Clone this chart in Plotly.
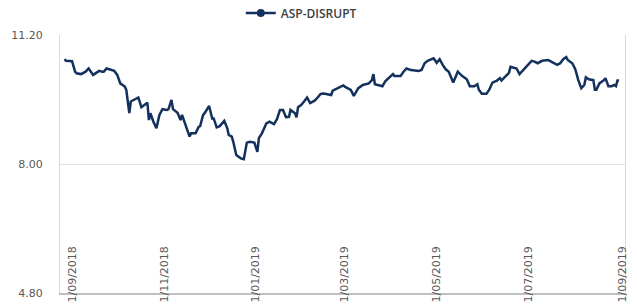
import plotly.graph_objects as go

dates = [
    "2018-08-27", "2018-08-28", "2018-09-01", "2018-09-03", "2018-09-04", "2018-09-07",
    "2018-09-10", "2018-09-12", "2018-09-15", "2018-09-16", "2018-09-19", "2018-09-21",
    "2018-09-22", "2018-09-24", "2018-09-27", "2018-09-29", "2018-10-01", "2018-10-03",
    "2018-10-06", "2018-10-07", "2018-10-08", "2018-10-09", "2018-10-10", "2018-10-14",
    "2018-10-15", "2018-10-17", "2018-10-19", "2018-10-21", "2018-10-22", "2018-10-23",
    "2018-10-25", "2018-10-27", "2018-10-29", "2018-10-31", "2018-11-03", "2018-11-04",
    "2018-11-06", "2018-11-07", "2018-11-10", "2018-11-12", "2018-11-13", "2018-11-15",
    "2018-11-18", "2018-11-19", "2018-11-22", "2018-11-24", "2018-11-25", "2018-11-27",
    "2018-11-28", "2018-12-01", "2018-12-03", "2018-12-04", "2018-12-06", "2018-12-08",
    "2018-12-11", "2018-12-13", "2018-12-14", "2018-12-16", "2018-12-17", "2018-12-19",
    "2018-12-22", "2018-12-24", "2018-12-26", "2018-12-28", "2018-12-31", "2019-01-02",
    "2019-01-03", "2019-01-05", "2019-01-08", "2019-01-10", "2019-01-13", "2019-01-15",
    "2019-01-17", "2019-01-19", "2019-01-21", "2019-01-23", "2019-01-24", "2019-01-27",
    "2019-01-28", "2019-01-29", "2019-01-31", "2019-02-02", "2019-02-04", "2019-02-06",
    "2019-02-09", "2019-02-11", "2019-02-13", "2019-02-15", "2019-02-20", "2019-02-21",
    "2019-02-24", "2019-02-26", "2019-02-28", "2019-03-01", "2019-03-05", "2019-03-07",
    "2019-03-10", "2019-03-13", "2019-03-17", "2019-03-19", "2019-03-20", "2019-03-21",
    "2019-03-24", "2019-03-26", "2019-03-28", "2019-03-31", "2019-04-02", "2019-04-03",
    "2019-04-07", "2019-04-09", "2019-04-11", "2019-04-14", "2019-04-19", "2019-04-21",
    "2019-04-23", "2019-04-25", "2019-04-28", "2019-04-29", "2019-05-01", "2019-05-03",
    "2019-05-05", "2019-05-07", "2019-05-09", "2019-05-12", "2019-05-15", "2019-05-18",
    "2019-05-21", "2019-05-23", "2019-05-26", "2019-05-28", "2019-05-29", "2019-05-31",
    "2019-06-03", "2019-06-05", "2019-06-07", "2019-06-10", "2019-06-12", "2019-06-13",
    "2019-06-15", "2019-06-18", "2019-06-19", "2019-06-23", "2019-06-25", "2019-06-28",
    "2019-07-01", "2019-07-03", "2019-07-05", "2019-07-07", "2019-07-10", "2019-07-14",
    "2019-07-16", "2019-07-20", "2019-07-22", "2019-07-24", "2019-07-26", "2019-07-27",
    "2019-07-30", "2019-08-01", "2019-08-03", "2019-08-05", "2019-08-07", "2019-08-08",
    "2019-08-10", "2019-08-13", "2019-08-14", "2019-08-15", "2019-08-17", "2019-08-20",
    "2019-08-21", "2019-08-23", "2019-08-25", "2019-08-27", "2019-08-28", "2019-08-29",
    "2019-08-30",
]

values = [
    10.60, 10.56, 10.55, 10.29, 10.25, 10.23,
    10.29, 10.37, 10.21, 10.23, 10.31, 10.29,
    10.29, 10.37, 10.33, 10.31, 10.21, 10.00,
    9.92, 9.84, 9.55, 9.26, 9.55, 9.63,
    9.65, 9.41, 9.46, 9.52, 9.09, 9.26,
    9.05, 8.89, 9.22, 9.36, 9.34, 9.36,
    9.59, 9.36, 9.27, 9.09, 9.22, 9.01,
    8.68, 8.76, 8.76, 8.92, 8.94, 9.22,
    9.26, 9.44, 9.13, 9.13, 8.91, 8.94,
    9.07, 8.89, 8.72, 8.68, 8.55, 8.22,
    8.14, 8.12, 8.53, 8.55, 8.53, 8.30,
    8.64, 8.76, 9.01, 9.05, 8.99, 9.11,
    9.34, 9.34, 9.16, 9.17, 9.34, 9.26,
    9.16, 9.41, 9.46, 9.55, 9.65, 9.51,
    9.57, 9.65, 9.74, 9.75, 9.71, 9.82,
    9.88, 9.92, 9.95, 9.92, 9.84, 9.69,
    9.88, 9.96, 10.00, 10.08, 10.23, 9.98,
    9.96, 9.93, 10.06, 10.15, 10.23, 10.18,
    10.18, 10.29, 10.37, 10.33, 10.31, 10.33,
    10.50, 10.56, 10.60, 10.62, 10.51, 10.60,
    10.46, 10.35, 10.29, 10.02, 10.29, 10.18,
    10.10, 9.93, 9.93, 9.98, 9.84, 9.74,
    9.74, 9.85, 10.02, 10.07, 10.13, 10.07,
    10.15, 10.26, 10.41, 10.37, 10.23, 10.35,
    10.48, 10.56, 10.54, 10.50, 10.56, 10.58,
    10.54, 10.46, 10.50, 10.60, 10.65, 10.58,
    10.50, 10.35, 10.08, 9.88, 9.96, 10.15,
    10.10, 10.08, 9.84, 9.84, 10.00, 10.08,
    10.13, 9.93, 9.93, 9.96, 9.93, 10.07,
    10.07,
]

series_name = "ASP-DISRUPT"
tick_dates = ["2018-09-01", "2018-11-01", "2019-01-01", "2019-03-01",
              "2019-05-01", "2019-07-01", "2019-09-01"]
tick_labels = ["1/09/2018", "1/11/2018", "1/01/2019", "1/03/2019",
               "1/05/2019", "1/07/2019", "1/09/2019"]
y_ticks = [4.80, 8.00, 11.20]

line_color = "#13315C"

fig = go.Figure()
fig.add_trace(go.Scatter(
    x=dates, y=values, mode="lines", showlegend=False,
    line=dict(color=line_color, width=2.5), hoverinfo="x+y",
))
fig.add_trace(go.Scatter(
    x=[None], y=[None], mode="lines+markers", name=series_name,
    line=dict(color=line_color, width=2.5),
    marker=dict(color=line_color, size=8, symbol="circle"),
))

fig.update_layout(
    width=637, height=308,
    margin=dict(l=60, r=12, t=35, b=15, autoexpand=False),
    paper_bgcolor="white", plot_bgcolor="white",
    font=dict(family="DejaVu Sans", color="#595959"),
    legend=dict(
        orientation="h", xref="container", x=0.378, xanchor="left",
        yref="container", y=0.958, yanchor="middle",
        font=dict(family="Open Sans", size=12, color="#404040", weight=600),
        bgcolor="rgba(0,0,0,0)",
    ),
    xaxis=dict(
        type="date", range=["2018-08-24", "2019-09-03"],
        tickmode="array", tickvals=tick_dates, ticktext=tick_labels,
        tickangle=-90, tickfont=dict(size=11, color="#595959"),
        showgrid=False, showline=True, linecolor="#bfbfbf", linewidth=1.5,
        ticks="", zeroline=False, automargin=False,
        ticklabelstandoff=-53,
    ),
    yaxis=dict(
        range=[4.8, 11.2], tickmode="array", tickvals=y_ticks,
        tickformat=".2f", tickfont=dict(size=11, color="#595959"),
        showgrid=True, gridcolor="#e3e3e3", gridwidth=1,
        showline=True, linecolor="#d9d9d9", linewidth=1, mirror=True,
        ticks="", zeroline=False, automargin=False,
        ticklabelstandoff=14,
    ),
)

fig.write_html(
    "out.html",
    config={"displayModeBar": False},
    post_script="document.body.style.margin='0';document.body.style.overflow='hidden';",
)
